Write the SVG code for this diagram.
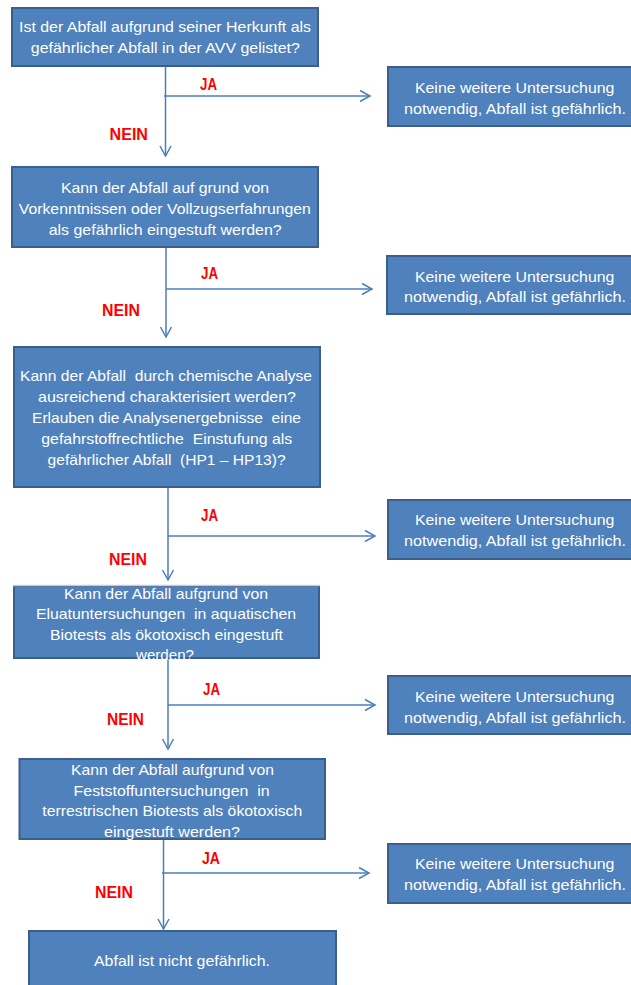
<svg xmlns="http://www.w3.org/2000/svg" width="631" height="985" viewBox="0 0 631 985">
<style>
.box{fill:#4f81bd;stroke:#3a5f8c;stroke-width:2}
.t{font-family:"Liberation Sans",Arial,sans-serif;font-size:15px;fill:#ffffff;text-anchor:middle;white-space:pre}
.lbl{font-family:"Liberation Sans",Arial,sans-serif;font-size:17px;font-weight:bold;fill:#ff0000}
.c{stroke:#4a7ebb;stroke-width:1.5;fill:none}
</style>
<defs>
<marker id="arr" markerUnits="userSpaceOnUse" markerWidth="14" markerHeight="14" refX="11" refY="6" orient="auto" viewBox="0 0 14 12">
<path d="M1,0.5 L11,6 L1,11.5" fill="none" stroke="#4a7ebb" stroke-width="1.5"/>
</marker>
</defs>
<rect width="631" height="985" fill="#ffffff"/>

<g id="connectors">
<line class="c" x1="165.5" y1="67" x2="165.5" y2="156" marker-end="url(#arr)"/>
<line class="c" x1="164" y1="96" x2="370" y2="96" marker-end="url(#arr)"/>
<line class="c" x1="166" y1="248" x2="166" y2="337" marker-end="url(#arr)"/>
<line class="c" x1="166" y1="289" x2="372" y2="289" marker-end="url(#arr)"/>
<line class="c" x1="168" y1="488" x2="168" y2="580" marker-end="url(#arr)"/>
<line class="c" x1="168" y1="536" x2="375" y2="536" marker-end="url(#arr)"/>
<line class="c" x1="168" y1="659" x2="168" y2="749" marker-end="url(#arr)"/>
<line class="c" x1="168" y1="705" x2="375" y2="705" marker-end="url(#arr)"/>
<line class="c" x1="163.5" y1="840" x2="163.5" y2="929" marker-end="url(#arr)"/>
<line class="c" x1="162" y1="873" x2="369" y2="873" marker-end="url(#arr)"/>
<text class="lbl" x="200" y="89.5" textLength="17" lengthAdjust="spacingAndGlyphs">JA</text>
<text class="lbl" x="109.5" y="140" textLength="38.5" lengthAdjust="spacingAndGlyphs">NEIN</text>
<text class="lbl" x="201" y="279" textLength="17" lengthAdjust="spacingAndGlyphs">JA</text>
<text class="lbl" x="102" y="316" textLength="38" lengthAdjust="spacingAndGlyphs">NEIN</text>
<text class="lbl" x="201" y="520.5" textLength="17" lengthAdjust="spacingAndGlyphs">JA</text>
<text class="lbl" x="109" y="565" textLength="38" lengthAdjust="spacingAndGlyphs">NEIN</text>
<text class="lbl" x="203" y="695" textLength="17" lengthAdjust="spacingAndGlyphs">JA</text>
<text class="lbl" x="107" y="725" textLength="37" lengthAdjust="spacingAndGlyphs">NEIN</text>
<text class="lbl" x="202" y="864" textLength="18" lengthAdjust="spacingAndGlyphs">JA</text>
<text class="lbl" x="95" y="897.5" textLength="38" lengthAdjust="spacingAndGlyphs">NEIN</text>
</g>

<g id="q1">
<rect class="box" x="12" y="8" width="306" height="58"/>
<text class="t" x="165" y="32" textLength="292" lengthAdjust="spacingAndGlyphs">Ist der Abfall aufgrund seiner Herkunft als</text>
<text class="t" x="165.3" y="53" textLength="269" lengthAdjust="spacingAndGlyphs">gefährlicher Abfall in der AVV gelistet?</text>
</g>

<g id="r1">
<rect class="box" x="388" y="67" width="260" height="59"/>
<text class="t" x="514.7" y="92.5" textLength="199.5" lengthAdjust="spacingAndGlyphs">Keine weitere Untersuchung</text>
<text class="t" x="515" y="113.5" textLength="222" lengthAdjust="spacingAndGlyphs">notwendig, Abfall ist gefährlich.</text>
</g>

<g id="q2">
<rect class="box" x="12" y="167" width="306" height="80"/>
<text class="t" x="165" y="192.5" textLength="208" lengthAdjust="spacingAndGlyphs">Kann der Abfall auf grund von</text>
<text class="t" x="164.8" y="213.5" textLength="292" lengthAdjust="spacingAndGlyphs">Vorkenntnissen oder Vollzugserfahrungen</text>
<text class="t" x="165.2" y="234.5" textLength="233" lengthAdjust="spacingAndGlyphs">als gefährlich eingestuft werden?</text>
</g>

<g id="r2">
<rect class="box" x="387" y="256" width="260" height="58"/>
<text class="t" x="514.7" y="281.5" textLength="199.5" lengthAdjust="spacingAndGlyphs">Keine weitere Untersuchung</text>
<text class="t" x="515" y="302" textLength="222" lengthAdjust="spacingAndGlyphs">notwendig, Abfall ist gefährlich.</text>
</g>

<g id="q3">
<rect class="box" x="14" y="347" width="306" height="140"/>
<text class="t" x="166" y="380.5" textLength="292" lengthAdjust="spacingAndGlyphs">Kann der Abfall  durch chemische Analyse</text>
<text class="t" x="167" y="401.5" textLength="258" lengthAdjust="spacingAndGlyphs">ausreichend charakterisiert werden?</text>
<text class="t" x="166.5" y="422.5" textLength="269" lengthAdjust="spacingAndGlyphs">Erlauben die Analysenergebnisse  eine</text>
<text class="t" x="166.8" y="443.5" textLength="251" lengthAdjust="spacingAndGlyphs">gefahrstoffrechtliche  Einstufung als</text>
<text class="t" x="166.6" y="464.5" textLength="238" lengthAdjust="spacingAndGlyphs">gefährlicher Abfall  (HP1 – HP13)?</text>
</g>

<g id="r3">
<rect class="box" x="388" y="500" width="260" height="59"/>
<text class="t" x="514.7" y="525" textLength="199.5" lengthAdjust="spacingAndGlyphs">Keine weitere Untersuchung</text>
<text class="t" x="515" y="546" textLength="222" lengthAdjust="spacingAndGlyphs">notwendig, Abfall ist gefährlich.</text>
</g>

<g id="q4">
<rect class="box" x="14" y="586" width="305" height="72"/>
<line x1="13" y1="585.5" x2="320" y2="585.5" stroke="#c3ccda" stroke-width="1.5"/>
<text class="t" x="166" y="598.5" textLength="204" lengthAdjust="spacingAndGlyphs">Kann der Abfall aufgrund von</text>
<text class="t" x="166" y="619" textLength="260" lengthAdjust="spacingAndGlyphs">Eluatuntersuchungen  in aquatischen</text>
<text class="t" x="166.5" y="639.5" textLength="233" lengthAdjust="spacingAndGlyphs">Biotests als ökotoxisch eingestuft</text>
<text class="t" x="165" y="660" textLength="58" lengthAdjust="spacingAndGlyphs">werden?</text>
</g>

<g id="r4">
<rect class="box" x="388" y="676" width="260" height="58"/>
<text class="t" x="514.7" y="701.5" textLength="199.5" lengthAdjust="spacingAndGlyphs">Keine weitere Untersuchung</text>
<text class="t" x="515" y="722.5" textLength="222" lengthAdjust="spacingAndGlyphs">notwendig, Abfall ist gefährlich.</text>
</g>

<g id="q5">
<rect class="box" x="19.5" y="759" width="305.5" height="80"/>
<text class="t" x="172.5" y="774.5" textLength="203" lengthAdjust="spacingAndGlyphs">Kann der Abfall aufgrund von</text>
<text class="t" x="171.6" y="795.5" textLength="196" lengthAdjust="spacingAndGlyphs">Feststoffuntersuchungen  in</text>
<text class="t" x="172.3" y="816" textLength="260" lengthAdjust="spacingAndGlyphs">terrestrischen Biotests als ökotoxisch</text>
<text class="t" x="172" y="837" textLength="136" lengthAdjust="spacingAndGlyphs">eingestuft werden?</text>
</g>

<g id="r5">
<rect class="box" x="388" y="844" width="260" height="59"/>
<text class="t" x="514.7" y="869" textLength="199.5" lengthAdjust="spacingAndGlyphs">Keine weitere Untersuchung</text>
<text class="t" x="515" y="889.5" textLength="222" lengthAdjust="spacingAndGlyphs">notwendig, Abfall ist gefährlich.</text>
</g>

<g id="end">
<rect class="box" x="29" y="931" width="307" height="70"/>
<text class="t" x="182" y="966" textLength="176" lengthAdjust="spacingAndGlyphs">Abfall ist nicht gefährlich.</text>
</g>
</svg>
